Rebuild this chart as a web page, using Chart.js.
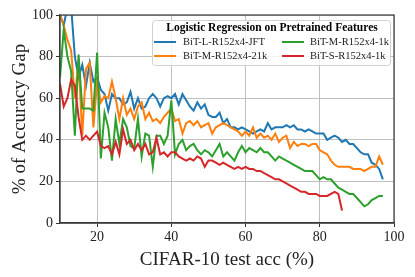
<!DOCTYPE html>
<html>
<head>
<meta charset="utf-8">
<script src="https://cdn.jsdelivr.net/npm/chart.js@4"></script>
<style>
  html, body { margin: 0; padding: 0; background: #fff; }
  #wrap { width: 415px; height: 277px; }
</style>
</head>
<body>
<div id="wrap"><canvas id="gapChart"></canvas></div>
<script>
// CIFAR-10 test accuracy (x) shared by the series
const testAcc = [10, 11, 12, 13, 14, 15, 16, 17, 18, 19, 20, 21, 22, 23, 24, 25, 26, 27, 28, 29,
    30, 31, 32, 33, 34, 35, 36, 37, 38, 39, 40, 41, 42, 43, 44, 45, 46, 47, 48, 49,
    50, 51, 52, 53, 54, 55, 56, 57, 58, 59, 60, 61, 62, 63, 64, 65, 66, 67, 68, 69,
    70, 71, 72, 73, 74, 75, 76, 77, 78, 79, 80, 81, 82, 83, 84, 85, 86, 87, 88, 89,
    90, 91, 92, 93, 94, 95, 96, 97];

const seriesNames = ["BiT-L-R152x4-JFT", "BiT-M-R152x4-21k", "BiT-M-R152x4-1k", "BiT-S-R152x4-1k"];
const legendTitle = "Logistic Regression on Pretrained Features";

const gapL_JFT = [100, 95, 104, 104, 80, 70, 76, 66, 77, 68, 70, 64, 62, 54, 62, 60, 60, 57, 58, 63,
    55, 60, 55, 56, 60, 62, 60, 56, 60, 61, 60, 62, 57, 62, 59, 56, 54, 58, 55, 57,
    52, 51, 51, 53, 48, 50, 46, 46, 45, 46, 45, 44, 43, 44, 45, 44, 48, 45, 46, 46,
    46, 47, 46, 47, 45, 45, 44, 45, 44, 43, 43, 43, 40, 41, 42, 41, 39, 40, 38, 38,
    36, 34, 33, 33, 29, 28, 26, 21];

const gapM_21k = [100, 95, 88, 83, 60, 78, 42, 74, 77, 46, 68, 58, 61, 60, 68, 60, 50, 60, 52, 55,
    50, 56, 58, 50, 53, 49, 50, 48, 51, 53, 55, 49, 50, 43, 48, 49, 47, 49, 46, 47,
    48, 43, 46, 47, 48, 47, 46, 45, 44, 42, 44, 42, 46, 41, 43, 41, 42, 40, 43, 39,
    41, 42, 36, 39, 37, 38, 38, 37, 38, 38, 35, 34, 33, 30, 28, 27, 27, 27, 27, 26,
    26, 26, 25, 26, 27, 27, 32, 28];

const gapM_1k = [70, 93, 80, 73, 42, 81, 55, 55, 55, 54, 82, 31, 53, 46, 30, 50, 38, 50, 46, 37,
    36, 50, 32, 43, 42, 27, 42, 42, 38, 42, 59, 33, 38, 40, 35, 37, 38, 35, 33, 35,
    34, 32, 35, 38, 32, 34, 32, 30, 34, 37, 34, 36, 35, 34, 36, 34, 34, 32, 30, 32,
    31, 30, 29, 28, 27, 26, 25, 25, 25, 23, 21, 22, 21, 21, 19, 17, 16, 15, 14, 14,
    12, 10, 8, 9, 11, 12, 13, 13];

const gapS_1k = [67, 56, 60, 69, 66, 51, 40, 42, 40, 42, 44, 37, 36, 37, 33, 39, 33, 45, 38, 40,
    35, 38, 35, 38, 33, 34, 41, 33, 34, 32, 34, 34, 32, 31, 30, 31, 30, 32, 31, 27,
    30, 30, 29, 28, 29, 28, 27, 26, 27, 26, 27, 26, 26, 25, 25, 24, 23, 22, 21, 21,
    20, 19, 18, 17, 16, 15, 15, 14, 14, 14, 13, 13, 13, 14, 15, 14, 6];

const xTicks = [20, 40, 60, 80, 100];
const yTicks = [0, 20, 40, 60, 80, 100];

const colors = ["#1f77b4", "#ff7f0e", "#2ca02c", "#d62728"];
const allSeries = [gapL_JFT, gapM_21k, gapM_1k, gapS_1k];

const serif = "'Liberation Serif', 'DejaVu Serif', serif";

let datasets = [];
allSeries.forEach((values, i) => {
    datasets.push({
        label: seriesNames[i],
        data: values.map((v, j) => ({x: testAcc[j], y: v})),
        borderColor: colors[i],
        backgroundColor: colors[i],
        borderWidth: 2,
        pointRadius: 0,
        tension: 0,
        order: allSeries.length - i
    });
});

// frame on all four sides, like matplotlib
const framePlugin = {
    id: 'frame',
    afterDatasetsDraw(chart) {
        const a = chart.chartArea;
        const ctx = chart.ctx;
        ctx.save();
        ctx.strokeStyle = '#3a3a3a';
        ctx.lineWidth = 1.2;
        ctx.strokeRect(a.left, a.top, a.right - a.left, a.bottom - a.top);
        ctx.restore();
    }
};

// two-column legend with a bold title
const boxLegend = {
    id: 'boxLegend',
    afterDraw(chart) {
        const ctx = chart.ctx;
        const bx = 152, by = 20, bw = 238, bh = 45;
        ctx.save();
        ctx.fillStyle = 'rgba(255,255,255,0.8)';
        ctx.strokeStyle = '#d0d0d0';
        ctx.lineWidth = 1;
        ctx.beginPath();
        ctx.roundRect(bx + 0.5, by + 0.5, bw, bh, 3);
        ctx.fill();
        ctx.stroke();

        ctx.fillStyle = '#000';
        ctx.textBaseline = 'middle';
        ctx.textAlign = 'center';
        ctx.font = 'bold 11.5px ' + serif;
        ctx.fillText(legendTitle, bx + bw / 2 + 1, 28);

        const cols = [[154, 183], [282, 310]];
        const rows = [42, 56];
        ctx.font = '10.5px ' + serif;
        ctx.textAlign = 'left';
        chart.data.datasets.forEach((ds, i) => {
            const col = cols[Math.floor(i / 2)];
            const y = rows[i % 2];
            ctx.strokeStyle = ds.borderColor;
            ctx.lineWidth = 2;
            ctx.beginPath();
            ctx.moveTo(col[0], y);
            ctx.lineTo(col[0] + 22, y);
            ctx.stroke();
            ctx.fillStyle = '#222';
            ctx.fillText(ds.label, col[1], y);
        });
        ctx.restore();
    }
};

new Chart(document.getElementById('gapChart'), {
    type: 'line',
    data: {datasets: datasets},
    options: {
        responsive: true,
        maintainAspectRatio: false,
        animation: false,
        devicePixelRatio: 1,
        layout: {padding: {left: 0, right: 21, top: 15, bottom: 0}},
        plugins: {
            legend: {display: false},
            tooltip: {enabled: false}
        },
        scales: {
            x: {
                type: 'linear',
                min: 10,
                max: 100,
                afterBuildTicks: scale => { scale.ticks = xTicks.map(v => ({value: v})); },
                afterFit: scale => { scale.height = 54; },
                grid: {color: '#b0b0b0', lineWidth: 0.8, tickLength: 4, tickColor: '#333', tickWidth: 1},
                border: {color: '#3a3a3a', width: 1.2},
                ticks: {color: '#222', padding: 2, maxRotation: 0, font: {family: serif, size: 14}},
                title: {display: true, text: 'CIFAR-10 test acc (%)', color: '#222',
                    font: {family: serif, size: 19}, padding: {top: 0, bottom: 6}}
            },
            y: {
                min: 0,
                max: 100,
                afterBuildTicks: scale => { scale.ticks = yTicks.map(v => ({value: v})); },
                afterFit: scale => { scale.width = 60; },
                grid: {color: '#b0b0b0', lineWidth: 0.8, tickLength: 4, tickColor: '#333', tickWidth: 1},
                border: {color: '#3a3a3a', width: 1.2},
                ticks: {color: '#222', padding: 3, font: {family: serif, size: 14}},
                title: {display: true, text: '% of Accuracy Gap', color: '#222',
                    font: {family: serif, size: 19}, padding: {top: 9, bottom: 0}}
            }
        }
    },
    plugins: [framePlugin, boxLegend]
});
</script>
</body>
</html>
